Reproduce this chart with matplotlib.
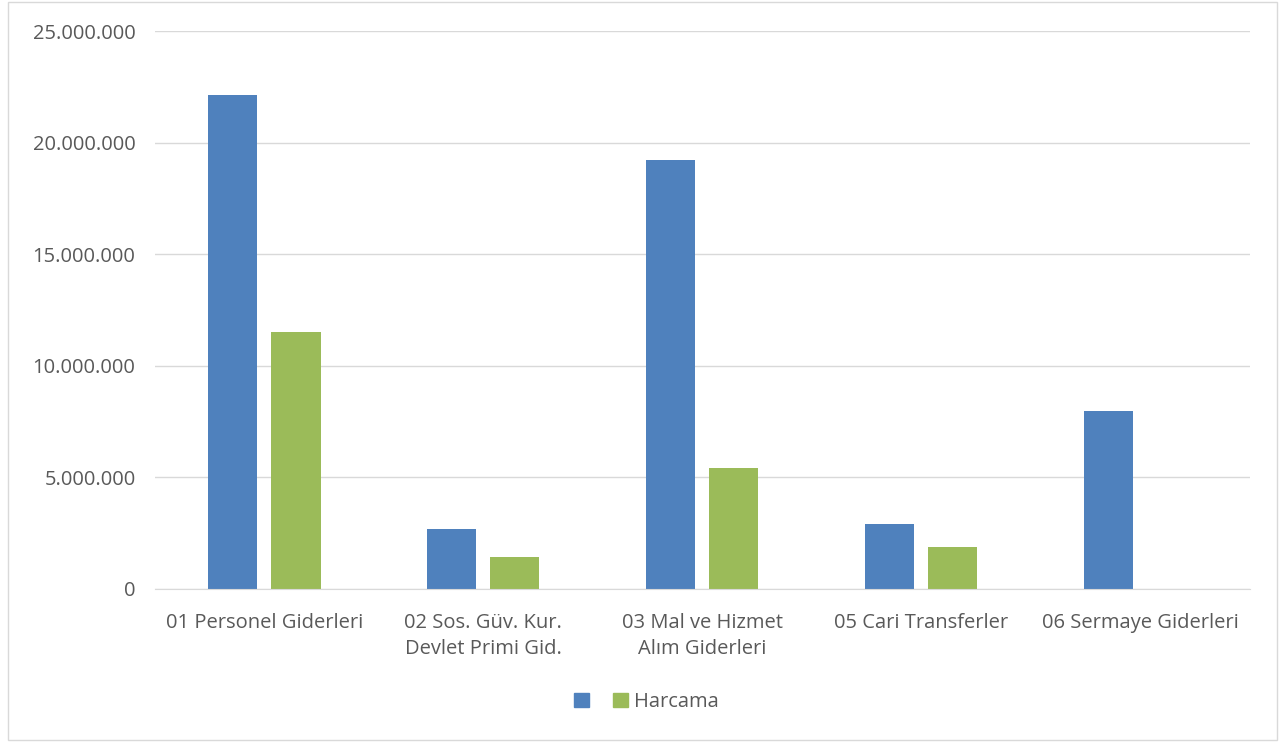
import numpy as np
import matplotlib.pyplot as plt
from matplotlib.patches import Patch, Rectangle
from matplotlib.ticker import FuncFormatter

categories = ['01 Personel Giderleri', '02 Sos. Güv. Kur.\nDevlet Primi Gid.',
              '03 Mal ve Hizmet\nAlım Giderleri', '05 Cari Transferler', '06 Sermaye Giderleri']
butce = [22130000, 2690000, 19220000, 2910000, 7970000]
harcama = [11510000, 1430000, 5420000, 1880000, 0]

blue = '#4f81bd'
green = '#9bbb59'
txt = '#595959'

plt.rcParams['font.family'] = ['Open Sans', 'DejaVu Sans']

fig = plt.figure(figsize=(12.85, 7.42), dpi=100)
ax = fig.add_axes([0.1206, 0.2062, 0.852, 0.752])

x = np.arange(len(categories))
w = 0.224
ax.bar(x - 0.144, butce, w, color=blue)
ax.bar(x + 0.144, harcama, w, color=green)

ax.set_xlim(-0.5, len(categories) - 0.5)
ax.set_ylim(0, 25000000)
ax.set_yticks(np.arange(0, 25000001, 5000000))
ax.yaxis.set_major_formatter(FuncFormatter(lambda v, p: f'{int(v):,}'.replace(',', '.')))
ax.set_xticks(x)
ax.set_xticklabels(categories, linespacing=1.45)
ax.tick_params(axis='both', length=0, colors=txt, labelsize=14.5)
ax.tick_params(axis='x', pad=17)
ax.tick_params(axis='y', pad=14)
ax.grid(axis='y', color='#d9d9d9', linewidth=1)
ax.set_axisbelow(True)
for s in ['top', 'right', 'left']:
    ax.spines[s].set_visible(False)
ax.spines['bottom'].set_color('#d9d9d9')

handles = [Patch(color=blue), Patch(color=green)]
fig.legend(handles, ['', 'Harcama'], loc='center', bbox_to_anchor=(0.503, 0.054), ncol=2,
           frameon=False, fontsize=14.5, labelcolor=txt, handlelength=0.75, handleheight=0.75,
           columnspacing=0.9, handletextpad=0.3)

fig.patches.append(Rectangle((0.006, 0.003), 0.988, 0.994, transform=fig.transFigure,
                             fill=False, edgecolor='#d9d9d9', linewidth=1))

fig.savefig('out.png', dpi=100)
